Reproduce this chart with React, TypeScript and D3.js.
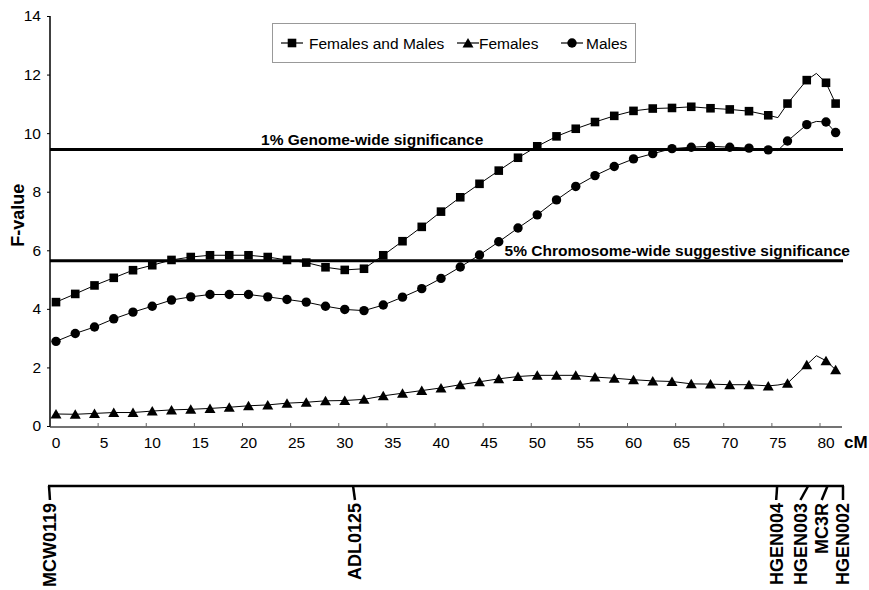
import { useEffect, useRef } from 'react';
import * as d3 from 'd3';

// map positions (cM) of the F-value profile; 75 and 79 carry no marker
const cmPositions = [
  0, 2, 4, 6, 8, 10, 12, 14, 16, 18, 20, 22, 24, 26, 28, 30, 32, 34, 36, 38, 40, 42, 44, 46, 48,
  50, 52, 54, 56, 58, 60, 62, 64, 66, 68, 70, 72, 74, 75, 76, 78, 79, 80, 81
];
const unmarkedPositions = [75, 79];

const bothValues = [
  4.23, 4.51, 4.8, 5.06, 5.32, 5.49, 5.67, 5.77, 5.83, 5.83, 5.83, 5.77, 5.67, 5.58, 5.42, 5.33,
  5.37, 5.83, 6.31, 6.8, 7.32, 7.81, 8.27, 8.72, 9.16, 9.55, 9.89, 10.15, 10.38, 10.59, 10.76,
  10.84, 10.86, 10.9, 10.85, 10.81, 10.75, 10.61, 10.53, 11.01, 11.81, 12.04, 11.72, 11.01
];
const femaleValues = [
  0.41, 0.4, 0.43, 0.46, 0.46, 0.51, 0.55, 0.57, 0.6, 0.64, 0.69, 0.72, 0.78, 0.81, 0.86, 0.87,
  0.91, 1.03, 1.12, 1.21, 1.3, 1.41, 1.51, 1.61, 1.69, 1.73, 1.73, 1.73, 1.67, 1.63, 1.58, 1.54,
  1.52, 1.44, 1.43, 1.41, 1.41, 1.37, 1.4, 1.46, 2.09, 2.4, 2.23, 1.92
];
const maleValues = [
  2.89, 3.16, 3.38, 3.66, 3.89, 4.09, 4.3, 4.41, 4.49, 4.49, 4.49, 4.41, 4.32, 4.23, 4.09, 3.98,
  3.94, 4.13, 4.4, 4.69, 5.04, 5.43, 5.84, 6.29, 6.76, 7.21, 7.72, 8.18, 8.55, 8.86, 9.12, 9.3,
  9.47, 9.52, 9.55, 9.52, 9.49, 9.43, 9.41, 9.73, 10.29, 10.4, 10.38, 10.02
];

const seriesNames = ['Females and Males', 'Females', 'Males'];

const xTickValues = [0, 5, 10, 15, 20, 25, 30, 35, 40, 45, 50, 55, 60, 65, 70, 75, 80];
const yTickValues = [0, 2, 4, 6, 8, 10, 12, 14];

const thresholdLabels = ['1% Genome-wide significance', '5% Chromosome-wide suggestive significance'];
const thresholdValues = [9.44, 5.64];

// genetic map below the chart
const markerNames = ['MCW0119', 'ADL0125', 'HGEN004', 'HGEN003', 'MC3R', 'HGEN002'];
const markerPositions = [0, 31.4, 75.2, 78.4, 80.4, 82];
const markerLabelPositions = [0.1, 31.6, 75.1, 77.6, 79.8, 82];

const FONT = "'Liberation Sans', Arial, sans-serif";

const squarePath = 'M-4.3,-4.3H4.3V4.3H-4.3Z';
const trianglePath = 'M0,-5L5.5,4.5L-5.5,4.5Z';
const circlePath = d3.symbol(d3.symbolCircle, Math.PI * 4.7 * 4.7)()!;
const markerPaths = [squarePath, trianglePath, circlePath];

export default function App() {
  const ref = useRef<SVGSVGElement>(null);

  useEffect(() => {
    const svg = d3.select(ref.current);
    svg.selectAll('*').remove();

    const xScale = d3.scaleLinear().domain([0, 80]).range([56, 826]);
    const yScale = d3.scaleLinear().domain([0, 14]).range([426, 16]);
    const mapScale = d3.scaleLinear().domain([0, 82]).range([49, 843]);
    const axisLeftX = 50;
    const axisRightX = 842;

    // y axis
    const yAxis = svg.append('g').attr('transform', `translate(${axisLeftX},0)`);
    yAxis
      .call(d3.axisLeft(yScale).tickValues(yTickValues).tickSize(3).tickPadding(6))
      .call((g) => {
        g.select('.domain').remove();
        g.selectAll('.tick line').attr('stroke', '#000');
        g.selectAll('.tick text').attr('font-size', '15.5px').attr('font-family', FONT).attr('fill', '#000');
      });
    yAxis
      .append('line')
      .attr('y1', yScale(14))
      .attr('y2', yScale(0) + 1)
      .attr('stroke', '#000')
      .attr('stroke-width', 1.5);

    // x axis
    const xAxis = svg.append('g').attr('transform', `translate(0,${yScale(0) + 1})`);
    xAxis
      .append('line')
      .attr('x1', axisLeftX)
      .attr('x2', axisRightX)
      .attr('stroke', '#444')
      .attr('stroke-width', 1.5);
    xAxis
      .selectAll('.tick-mark')
      .data(xTickValues.slice(1))
      .enter()
      .append('line')
      .attr('x1', (d) => xScale(d) - 6)
      .attr('x2', (d) => xScale(d) - 6)
      .attr('y1', 0)
      .attr('y2', -4)
      .attr('stroke', '#666');
    xAxis
      .selectAll('.tick-label')
      .data(xTickValues)
      .enter()
      .append('text')
      .attr('x', (d) => xScale(d))
      .attr('y', 21)
      .attr('text-anchor', 'middle')
      .attr('font-size', '15.5px')
      .attr('font-family', FONT)
      .text((d) => d);
    xAxis
      .append('text')
      .attr('x', 844)
      .attr('y', 21)
      .attr('font-size', '17px')
      .attr('font-weight', 'bold')
      .attr('font-family', FONT)
      .text('cM');

    svg
      .append('text')
      .attr('transform', `translate(24,${yScale(7.2)}) rotate(-90)`)
      .attr('text-anchor', 'middle')
      .attr('font-size', '18px')
      .attr('font-weight', 'bold')
      .attr('font-family', FONT)
      .text('F-value');

    // significance thresholds
    thresholdValues.forEach((value) => {
      svg
        .append('line')
        .attr('x1', axisLeftX)
        .attr('x2', 843)
        .attr('y1', yScale(value))
        .attr('y2', yScale(value))
        .attr('stroke', '#000')
        .attr('stroke-width', 3);
    });
    svg
      .append('text')
      .attr('x', xScale(44.4))
      .attr('y', yScale(thresholdValues[0]) - 5)
      .attr('text-anchor', 'end')
      .attr('font-size', '15.5px')
      .attr('font-weight', 'bold')
      .attr('font-family', FONT)
      .text(thresholdLabels[0]);
    svg
      .append('text')
      .attr('x', xScale(46.6))
      .attr('y', yScale(thresholdValues[1]) - 5)
      .attr('font-size', '15.5px')
      .attr('font-weight', 'bold')
      .attr('font-family', FONT)
      .text(thresholdLabels[1]);

    // series
    const seriesValues = [bothValues, femaleValues, maleValues];
    const lineGenerator = d3
      .line<[number, number]>()
      .x((d) => xScale(d[0]))
      .y((d) => yScale(d[1]));

    seriesValues.forEach((values, i) => {
      const points = cmPositions.map((cm, j) => [cm, values[j]] as [number, number]);
      svg
        .append('path')
        .attr('d', lineGenerator(points))
        .attr('fill', 'none')
        .attr('stroke', '#000')
        .attr('stroke-width', 1);
      svg
        .append('g')
        .selectAll('path')
        .data(points.filter((p) => !unmarkedPositions.includes(p[0])))
        .enter()
        .append('path')
        .attr('d', markerPaths[i])
        .attr('transform', (d) => `translate(${xScale(d[0])},${yScale(d[1])})`)
        .attr('fill', '#000');
    });

    // legend
    const legend = svg.append('g').attr('transform', 'translate(272,23)');
    legend
      .append('rect')
      .attr('x', 0.5)
      .attr('y', 0.5)
      .attr('width', 363)
      .attr('height', 39)
      .attr('fill', '#fff')
      .attr('stroke', '#999');
    const legendOffsets = [9, 185, 289];
    const legendTextOffsets = [37, 207, 314];
    seriesNames.forEach((name, i) => {
      const g = legend.append('g').attr('transform', `translate(${legendOffsets[i]},20)`);
      g.append('line').attr('x1', 0).attr('x2', 22).attr('stroke', '#000').attr('stroke-width', 1.2);
      g.append('path').attr('d', markerPaths[i]).attr('transform', 'translate(11,0)').attr('fill', '#000');
      legend
        .append('text')
        .attr('x', legendTextOffsets[i])
        .attr('y', 25.5)
        .attr('font-size', '15.5px')
        .attr('font-family', FONT)
        .text(name);
    });

    // genetic map
    const mapY = 486;
    const mapG = svg.append('g');
    mapG
      .append('line')
      .attr('x1', mapScale(0) - 1)
      .attr('x2', mapScale(82) + 1)
      .attr('y1', mapY)
      .attr('y2', mapY)
      .attr('stroke', '#000')
      .attr('stroke-width', 2.5);
    markerNames.forEach((name, i) => {
      mapG
        .append('line')
        .attr('x1', mapScale(markerPositions[i]))
        .attr('x2', mapScale(markerLabelPositions[i]))
        .attr('y1', mapY)
        .attr('y2', mapY + 14)
        .attr('stroke', '#000')
        .attr('stroke-width', 2.5);
      mapG
        .append('text')
        .attr('transform', `translate(${mapScale(markerLabelPositions[i])},${mapY + 17}) rotate(-90)`)
        .attr('text-anchor', 'end')
        .attr('dy', '0.36em')
        .attr('font-size', '18px')
        .attr('font-weight', 'bold')
        .attr('font-family', FONT)
        .text(name);
    });
  }, []);

  return (
    <svg
      ref={ref}
      width={869}
      height={590}
      style={{ position: 'absolute', left: 0, top: 0, background: '#fff' }}
    />
  );
}
